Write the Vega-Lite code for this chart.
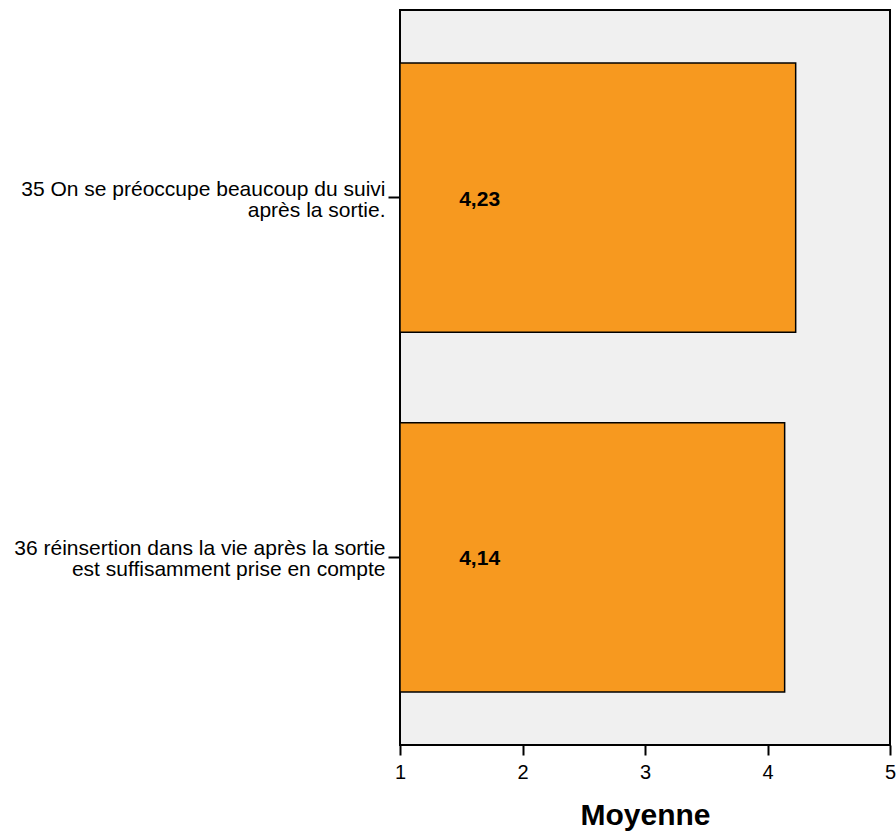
{
  "$schema": "https://vega.github.io/schema/vega-lite/v6.json",
  "width": 490,
  "height": 735,
  "autosize": "none",
  "padding": {"left": 400, "top": 10, "right": 6, "bottom": 87},
  "config": {
    "font": "Liberation Sans",
    "locale": {"number": {"decimal": ",", "thousands": " ", "grouping": [3], "currency": ["", " €"]}},
    "view": {"fill": "#f0f0f0", "stroke": "#000000", "strokeWidth": 2}
  },
  "data": {
    "values": [
      {"item": "35 On se préoccupe beaucoup du suivi|après la sortie.", "value": 4.23},
      {"item": "36 réinsertion dans la vie après la sortie|est suffisamment prise en compte", "value": 4.14}
    ]
  },
  "encoding": {
    "y": {
      "field": "item",
      "type": "nominal",
      "sort": null,
      "scale": {"paddingInner": 0.252, "paddingOuter": 0.147},
      "axis": {
        "title": null,
        "labelExpr": "split(datum.label, '|')",
        "labelFontSize": 21,
        "labelColor": "#000000",
        "labelLimit": 400,
        "labelBaseline": "middle",
        "labelLineHeight": 21,
        "labelOffset": -8,
        "tickSize": 12,
        "tickWidth": 2,
        "tickColor": "#000000",
        "labelPadding": 3,
        "domain": false
      }
    }
  },
  "layer": [
    {
      "mark": {"type": "bar", "color": "#f7991f", "stroke": "#000000", "strokeWidth": 1.5},
      "encoding": {
        "x": {
          "field": "value",
          "type": "quantitative",
          "scale": {"domain": [1, 5], "nice": false, "zero": false},
          "axis": {
            "title": "Moyenne",
            "titleFontSize": 30,
            "titleFontWeight": "bold",
            "titleColor": "#000000",
            "titlePadding": 18,
            "values": [1, 2, 3, 4, 5],
            "format": "d",
            "labelFontSize": 20,
            "labelColor": "#000000",
            "labelFlush": false,
            "tickSize": 10,
            "tickWidth": 2,
            "tickColor": "#000000",
            "labelPadding": 7,
            "grid": false,
            "domain": false
          }
        },
        "x2": {"datum": 1}
      }
    },
    {
      "mark": {"type": "text", "fontWeight": "bold", "fontSize": 21, "color": "#000000", "align": "center", "baseline": "middle", "dy": 2},
      "encoding": {
        "x": {"datum": 1.65, "type": "quantitative"},
        "text": {"field": "value", "type": "quantitative", "format": ".2f"}
      }
    }
  ]
}
